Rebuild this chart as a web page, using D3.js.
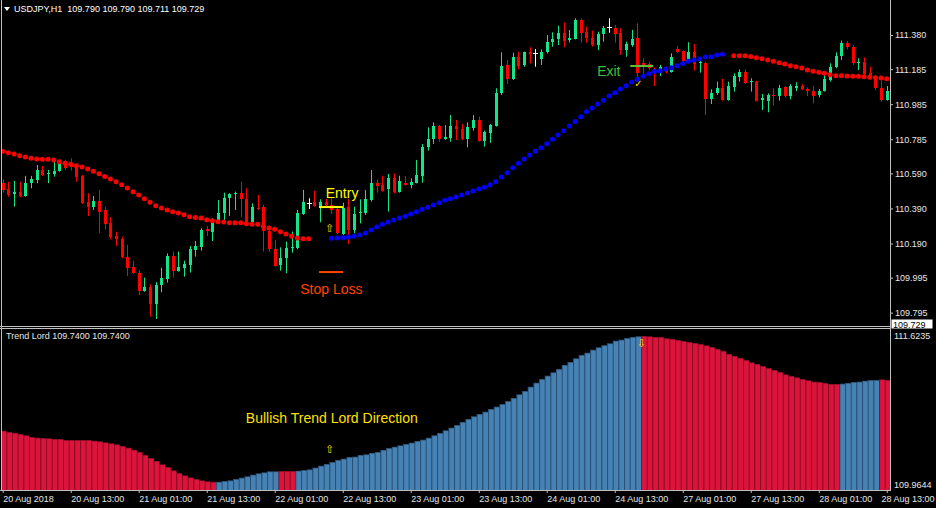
<!DOCTYPE html>
<html><head><meta charset="utf-8">
<script src="https://cdn.jsdelivr.net/npm/d3@7"></script>
<style>html,body{margin:0;padding:0;background:#000;overflow:hidden}svg{display:block}</style>
</head><body>
<svg id="c" width="936" height="508"></svg>
<script>
const opens = [110.534,110.499,110.471,110.486,110.463,110.534,110.553,110.610,110.585,110.585,110.604,110.661,110.652,110.619,110.576,110.429,110.400,110.433,110.381,110.305,110.233,110.216,110.115,110.058,110.024,109.919,109.944,109.845,109.953,109.986,110.119,110.033,110.052,110.068,110.153,110.172,110.271,110.258,110.315,110.366,110.452,110.471,110.477,110.444,110.311,110.395,110.400,110.263,110.159,110.068,110.106,110.163,110.166,110.359,110.419,110.427,110.400,110.429,110.410,110.385,110.244,110.396,110.267,110.362,110.362,110.438,110.537,110.524,110.501,110.562,110.486,110.535,110.526,110.537,110.575,110.743,110.786,110.861,110.788,110.790,110.861,110.843,110.786,110.851,110.895,110.777,110.819,110.862,111.047,111.209,111.129,111.256,111.209,111.285,111.275,111.243,111.281,111.338,111.355,111.393,111.351,111.357,111.466,111.399,111.365,111.323,111.386,111.428,111.422,111.389,111.294,111.323,111.361,111.218,111.213,111.184,111.161,111.190,111.171,111.298,111.289,111.237,111.281,111.218,111.222,111.013,111.047,111.076,111.009,111.085,111.142,111.171,111.110,111.114,111.009,111.005,111.038,111.032,111.081,111.032,111.076,111.089,111.072,111.062,111.038,111.062,111.123,111.199,111.260,111.336,111.313,111.218,111.228,111.161,111.142,111.076,111.009];
const highs = [110.556,110.543,110.547,110.543,110.576,110.576,110.638,110.633,110.610,110.657,110.667,110.667,110.676,110.638,110.581,110.477,110.461,110.496,110.400,110.340,110.258,110.229,110.182,110.092,110.039,109.995,109.957,109.969,110.052,110.134,110.144,110.144,110.092,110.176,110.204,110.277,110.290,110.334,110.438,110.480,110.477,110.486,110.543,110.505,110.419,110.467,110.410,110.282,110.210,110.168,110.201,110.258,110.381,110.496,110.448,110.490,110.442,110.444,110.448,110.404,110.423,110.442,110.400,110.442,110.495,110.609,110.556,110.577,110.587,110.590,110.577,110.575,110.562,110.667,110.758,110.853,110.881,110.866,110.866,110.923,110.895,110.872,110.881,110.923,110.914,110.834,110.872,111.076,111.281,111.237,111.279,111.285,111.285,111.310,111.300,111.298,111.380,111.395,111.433,111.452,111.409,111.475,111.475,111.428,111.405,111.399,111.431,111.475,111.437,111.418,111.342,111.409,111.447,111.247,111.228,111.195,111.209,111.199,111.275,111.317,111.294,111.338,111.329,111.237,111.228,111.070,111.114,111.129,111.114,111.161,111.184,111.184,111.133,111.119,111.043,111.047,111.076,111.095,111.089,111.100,111.110,111.100,111.081,111.089,111.072,111.152,111.218,111.281,111.348,111.346,111.323,111.247,111.252,111.199,111.148,111.119,111.089];
const lows = [110.480,110.457,110.400,110.454,110.457,110.505,110.534,110.576,110.534,110.572,110.600,110.610,110.606,110.543,110.416,110.347,110.381,110.248,110.271,110.214,110.176,110.106,110.005,110.016,109.896,109.915,109.773,109.759,109.911,109.967,109.997,110.029,110.001,110.024,110.115,110.149,110.233,110.204,110.302,110.321,110.347,110.381,110.340,110.290,110.302,110.381,110.144,110.144,110.058,110.035,110.020,110.138,110.157,110.353,110.387,110.400,110.311,110.400,110.358,110.244,110.239,110.187,110.248,110.305,110.353,110.429,110.480,110.486,110.372,110.476,110.480,110.520,110.505,110.533,110.537,110.720,110.758,110.771,110.781,110.771,110.781,110.781,110.739,110.834,110.771,110.743,110.765,110.857,111.038,111.100,111.123,111.184,111.199,111.218,111.199,111.209,111.275,111.313,111.323,111.310,111.338,111.355,111.336,111.336,111.313,111.294,111.342,111.393,111.336,111.266,111.256,111.313,111.114,111.152,111.180,111.089,111.146,111.161,111.165,111.279,111.218,111.228,111.176,111.165,110.923,110.986,111.038,111.005,111.005,111.057,111.114,111.100,111.057,111.000,110.952,110.939,110.977,111.005,111.024,111.013,111.060,111.066,111.032,110.990,111.024,111.057,111.114,111.190,111.237,111.298,111.209,111.180,111.152,111.127,111.066,111.000,111.005];
const closes = [110.496,110.467,110.486,110.463,110.537,110.558,110.610,110.581,110.591,110.604,110.648,110.623,110.629,110.572,110.423,110.400,110.433,110.372,110.302,110.229,110.214,110.111,110.052,110.024,109.921,109.944,109.843,109.953,109.995,110.119,110.033,110.058,110.073,110.159,110.176,110.267,110.262,110.315,110.366,110.448,110.473,110.480,110.442,110.296,110.400,110.389,110.262,110.157,110.062,110.106,110.166,110.172,110.366,110.429,110.419,110.404,110.425,110.410,110.381,110.248,110.395,110.267,110.358,110.370,110.442,110.537,110.520,110.491,110.562,110.486,110.547,110.526,110.539,110.581,110.743,110.784,110.861,110.786,110.798,110.861,110.842,110.786,110.857,110.895,110.777,110.824,110.866,111.047,111.203,111.129,111.252,111.205,111.281,111.273,111.275,111.281,111.338,111.357,111.393,111.346,111.363,111.466,111.393,111.361,111.323,111.386,111.422,111.428,111.386,111.294,111.329,111.357,111.161,111.195,111.190,111.161,111.195,111.171,111.256,111.285,111.234,111.285,111.214,111.228,111.013,111.051,111.079,111.009,111.089,111.146,111.171,111.108,111.119,111.005,111.018,111.038,111.032,111.079,111.032,111.089,111.089,111.072,111.062,111.032,111.062,111.127,111.199,111.260,111.336,111.310,111.218,111.228,111.157,111.133,111.076,111.009,111.062];

const trendLine = [110.716,110.708,110.701,110.691,110.684,110.676,110.672,110.671,110.671,110.667,110.657,110.648,110.642,110.634,110.627,110.615,110.602,110.588,110.573,110.558,110.543,110.526,110.507,110.486,110.467,110.446,110.425,110.406,110.393,110.381,110.371,110.364,110.354,110.343,110.339,110.335,110.326,110.320,110.314,110.313,110.309,110.309,110.309,110.303,110.300,110.300,110.288,110.278,110.271,110.257,110.244,110.231,110.221,110.217,110.217,null,null,null,110.220,110.221,110.223,110.227,110.231,110.238,110.250,110.267,110.284,110.300,110.313,110.324,110.335,110.345,110.358,110.371,110.385,110.397,110.410,110.423,110.437,110.446,110.455,110.467,110.478,110.490,110.501,110.511,110.526,110.543,110.569,110.594,110.623,110.648,110.672,110.695,110.716,110.737,110.760,110.785,110.809,110.834,110.861,110.887,110.914,110.942,110.963,110.986,111.007,111.032,111.051,111.072,111.091,111.112,111.127,111.144,111.159,111.171,111.176,111.186,111.193,111.205,111.218,111.230,111.237,111.245,111.254,111.256,111.266,111.270,null,111.262,111.262,111.262,111.258,111.250,111.245,111.237,111.230,111.222,111.214,111.205,111.199,111.192,111.180,111.173,111.167,111.161,111.153,111.148,111.148,111.146,111.144,111.144,111.142,111.139,111.136,111.135,111.131];
const trendSegments = [{from:0,to:54,dir:"down"},{from:58,to:127,dir:"up"},{from:129,to:156,dir:"down"}];

const histValues = [110.547,110.532,110.524,110.509,110.495,110.475,110.467,110.464,110.461,110.453,110.453,110.441,110.441,110.441,110.441,110.441,110.433,110.427,110.415,110.404,110.392,110.373,110.354,110.331,110.305,110.271,110.237,110.203,110.165,110.134,110.097,110.066,110.040,110.017,109.998,109.983,109.972,109.966,109.966,109.975,109.983,109.998,110.013,110.029,110.047,110.063,110.074,110.086,110.086,110.089,110.089,110.089,110.092,110.100,110.108,110.127,110.149,110.169,110.191,110.214,110.229,110.248,110.252,110.271,110.279,110.294,110.305,110.328,110.350,110.365,110.381,110.396,110.411,110.430,110.445,110.467,110.495,110.521,110.552,110.581,110.612,110.646,110.680,110.711,110.737,110.763,110.794,110.820,110.850,110.884,110.919,110.961,110.998,111.047,111.092,111.134,111.172,111.211,111.248,111.294,111.328,111.370,111.407,111.433,111.467,111.495,111.519,111.541,111.570,111.581,111.600,111.612,111.620,111.6235,111.620,111.612,111.612,111.597,111.589,111.578,111.566,111.555,111.544,111.532,111.517,111.498,111.475,111.453,111.419,111.396,111.373,111.350,111.324,111.305,111.282,111.259,111.237,111.214,111.188,111.169,111.154,111.134,111.120,111.104,111.100,111.089,111.078,111.078,111.081,111.089,111.100,111.104,111.115,111.123,111.123,111.131,111.123];
const histSegments = [{from:0,to:37,dir:"down"},{from:38,to:48,dir:"up"},{from:49,to:51,dir:"down"},{from:52,to:112,dir:"up"},{from:113,to:147,dir:"down"},{from:148,to:154,dir:"up"},{from:155,to:156,dir:"down"}];

const priceTicks = [111.380,111.185,110.985,110.785,110.590,110.390,110.190,109.995,109.795];
const priceTickLabels = ["111.380","111.185","110.985","110.785","110.590","110.390","110.190","109.995","109.795"];
const subTicks = [111.6235,109.9644];
const timeLabels = ["20 Aug 2018","20 Aug 13:00","21 Aug 01:00","21 Aug 13:00","22 Aug 01:00","22 Aug 13:00","23 Aug 01:00","23 Aug 13:00","24 Aug 01:00","24 Aug 13:00","27 Aug 01:00","27 Aug 13:00","28 Aug 01:00","28 Aug 13:00"];
const headerText = "USDJPY,H1  109.790 109.790 109.711 109.729";
const subTitle = "Trend Lord 109.7400 109.7400";
const lastPrice = 109.729;

const FONT = "'Liberation Sans', Arial, sans-serif";
const svg = d3.select("#c");
svg.append("rect").attr("width",936).attr("height",508).attr("fill","#000");

const N = closes.length;
const x = d3.scaleLinear().domain([0, N-1]).range([2.7, 2.7 + (N-1)*5.667]);
const yP = d3.scaleLinear().domain([109.795, 111.380]).range([312.7, 35]);
const yH = d3.scaleLinear().domain([109.9644, 111.6235]).range([482, 336]);

const defs = svg.append("defs");
defs.append("clipPath").attr("id","cTop").append("rect").attr("x",2).attr("y",0).attr("width",888).attr("height",325.5);
defs.append("clipPath").attr("id","cBot").append("rect").attr("x",2).attr("y",329).attr("width",888).attr("height",161);

const segDir = (segs, i) => { const s = segs.find(s => i >= s.from && i <= s.to); return s ? s.dir : null; };

// ---------- Histogram (sub window)
const gH = svg.append("g").attr("clip-path","url(#cBot)");
const hist = histValues.map((v,i)=>({i, v, dir: segDir(histSegments,i)}));
const hFill = {down:"#DC143C", up:"#4682B4"};
const hEdge = {down:"#8E0F27", up:"#2C5479"};
gH.selectAll("rect.he").data(hist).join("rect")
  .attr("x", d=>x(d.i)-2).attr("width",5.667)
  .attr("y", d=>yH(d.v)).attr("height", d=>490-yH(d.v))
  .attr("fill", d=>hEdge[d.dir]);
gH.selectAll("rect.hf").data(hist).join("rect")
  .attr("x", d=>x(d.i)-1).attr("width",4.667)
  .attr("y", d=>yH(d.v)+0.8).attr("height", d=>490-yH(d.v))
  .attr("fill", d=>hFill[d.dir]);

// ---------- Candles
const gC = svg.append("g").attr("clip-path","url(#cTop)");
const candles = closes.map((c,i)=>({i, o:opens[i], h:highs[i], l:lows[i], c}));
const cCol = d => d.c > d.o ? "#14E58A" : (d.c < d.o ? "#FF0000" : "#FFFFFF");
gC.selectAll("line.wick").data(candles).join("line")
  .attr("x1", d=>Math.round(x(d.i))+0.5).attr("x2", d=>Math.round(x(d.i))+0.5)
  .attr("y1", d=>yP(d.h)).attr("y2", d=>yP(d.l))
  .attr("stroke", cCol).attr("stroke-width",1);
gC.selectAll("rect.body").data(candles).join("rect")
  .attr("x", d=> d.c===d.o ? Math.round(x(d.i))-2 : Math.round(x(d.i))-1)
  .attr("width", d=> d.c===d.o ? 5 : 3)
  .attr("y", d=>yP(Math.max(d.o,d.c)))
  .attr("height", d=>Math.max(1, yP(Math.min(d.o,d.c)) - yP(Math.max(d.o,d.c))))
  .attr("fill", cCol).attr("shape-rendering","crispEdges");

// ---------- Trend Lord dots
const dots = trendLine.map((v,i)=>({i, v, dir: segDir(trendSegments,i)})).filter(d=>d.v!==null);
gC.selectAll("circle.dot").data(dots).join("circle")
  .attr("cx", d=>x(d.i)).attr("cy", d=>yP(d.v)).attr("r",2.5)
  .attr("fill", d=> d.dir==="up" ? "#0000FF" : "#FF0000");

// ---------- Annotations (top)
const ann = svg.append("g").attr("font-family",FONT);
ann.append("line").attr("x1",x(56)-1).attr("x2",x(60)+0.5).attr("y1",yP(110.398)).attr("y2",yP(110.398)).attr("stroke","#FFFF00").attr("stroke-width",2);
ann.append("line").attr("x1",x(56)-1).attr("x2",x(60)+0.5).attr("y1",yP(110.027)).attr("y2",yP(110.027)).attr("stroke","#FF4500").attr("stroke-width",2);
ann.append("text").attr("x",x(57)).attr("y",yP(110.450)).attr("fill","#FFFF00").attr("font-size",14).text("Entry");
ann.append("text").attr("x",x(52.5)).attr("y",yP(109.902)).attr("fill","#FF4500").attr("font-size",14).text("Stop Loss");
ann.append("text").attr("x",x(57.7)).attr("y",yP(110.258)).attr("fill","#FFD700").attr("font-size",11).attr("text-anchor","middle").attr("font-family","'DejaVu Sans'").text("⇧");
ann.append("line").attr("x1",x(111)-1.5).attr("x2",x(115)-1).attr("y1",yP(111.203)).attr("y2",yP(111.203)).attr("stroke","#55C23A").attr("stroke-width",2);
ann.append("text").attr("x",x(104.9)).attr("y",yP(111.146)).attr("fill","#3DBE3D").attr("font-size",14).text("Exit");
ann.append("text").attr("x",x(112.2)).attr("y",yP(111.085)).attr("fill","#FFD700").attr("font-size",10).attr("text-anchor","middle").attr("font-family","'DejaVu Sans'").text("✓");

// ---------- Annotations (bottom)
ann.append("text").attr("x",x(42.9)).attr("y",423).attr("fill","#FFE000").attr("font-size",14).text("Bullish Trend Lord Direction");
ann.append("text").attr("x",x(57.7)).attr("y",453).attr("fill","#FFD700").attr("font-size",11).attr("text-anchor","middle").attr("font-family","'DejaVu Sans'").text("⇧");
ann.append("text").attr("x",x(112.7)).attr("y",347).attr("fill","#FFD700").attr("font-size",11).attr("text-anchor","middle").attr("font-family","'DejaVu Sans'").text("⇩");

// ---------- Frames
const frame = svg.append("g").attr("stroke","#C0C0C0").attr("stroke-width",1).attr("shape-rendering","crispEdges");
frame.append("line").attr("x1",1.5).attr("x2",1.5).attr("y1",0).attr("y2",490);
frame.append("line").attr("x1",890.5).attr("x2",890.5).attr("y1",0).attr("y2",490);
frame.append("line").attr("x1",0).attr("x2",891).attr("y1",326.5).attr("y2",326.5);
frame.append("line").attr("x1",0).attr("x2",891).attr("y1",328.5).attr("y2",328.5);
frame.append("line").attr("x1",0).attr("x2",891).attr("y1",490.5).attr("y2",490.5);

// ---------- Price axis (top)
const styleAxis = g => {
  g.select(".domain").remove();
  g.selectAll(".tick line").attr("stroke","#C0C0C0");
  g.selectAll(".tick text").attr("fill","#E6E6E6").attr("font-size",9).attr("font-family",FONT);
};
svg.append("g").attr("transform","translate(890,0)")
  .call(d3.axisRight(yP).tickValues(priceTicks).tickFormat((d,i)=>priceTickLabels[i]).tickSize(3).tickPadding(2))
  .call(styleAxis);

// current price box
const lp = svg.append("g");
lp.append("rect").attr("x",891.5).attr("y",319.5).attr("width",41).attr("height",9).attr("fill","#FFFFFF");
lp.append("text").attr("x",893).attr("y",327.6).attr("fill","#000").attr("font-size",9).attr("font-family",FONT).text(lastPrice.toFixed(3));

// ---------- Sub-window axis
svg.append("g").attr("transform","translate(890,0)")
  .call(d3.axisRight(yH).tickValues(subTicks).tickFormat(d3.format(".4f")).tickSize(0).tickPadding(4))
  .call(styleAxis)
  .call(g=>g.selectAll(".tick").filter(d=>d===subTicks[1]).select("text").attr("dy","0.65em"));

// ---------- Time axis
svg.append("g").attr("transform","translate(0,490)")
  .call(d3.axisBottom(x).tickValues(d3.range(0, N, 12)).tickFormat((d,i)=>timeLabels[i]).tickSize(3).tickPadding(3))
  .call(styleAxis)
  .call(g=>g.selectAll(".tick text").attr("text-anchor","start").attr("x",0))
  .call(g=>{
    const last = g.selectAll(".tick text").filter((d,i,n)=>i===n.length-1);
    const w = last.node().getComputedTextLength();
    const tx = x(N-1);
    if (tx + w > 934) last.attr("x", 934 - w - tx);
  });

// ---------- Titles
svg.append("path").attr("d","M4,7 L10,7 L7,11 Z").attr("fill","#FFFFFF");
svg.append("text").attr("x",14).attr("y",12).attr("fill","#FFFFFF").attr("font-size",9).attr("font-family",FONT).attr("xml:space","preserve").style("white-space","pre").text(headerText);
svg.append("text").attr("x",6).attr("y",339).attr("fill","#E6E6E6").attr("font-size",9).attr("font-family",FONT).text(subTitle);
</script>
</body></html>
